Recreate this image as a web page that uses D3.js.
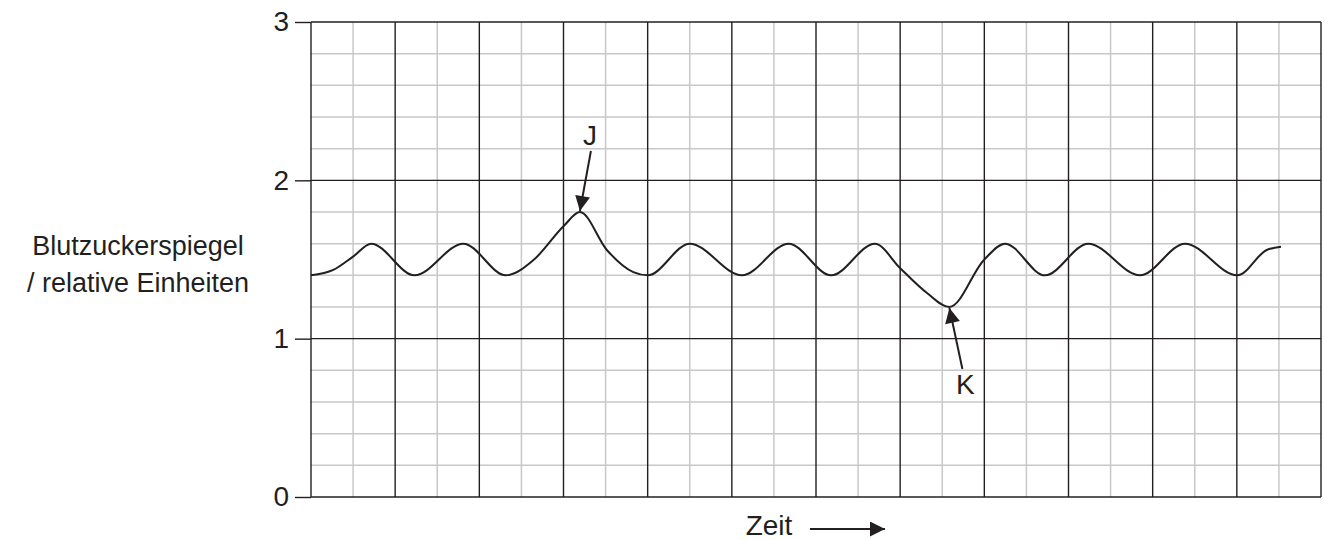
<!DOCTYPE html>
<html>
<head>
<meta charset="utf-8">
<script src="https://cdn.jsdelivr.net/npm/d3@7"></script>
<style>
  body { margin: 0; background: #fff; }
  text { font-family: "Liberation Sans", Arial, sans-serif; fill: #231f20; }
</style>
</head>
<body>
<script>
var width = 1325, height = 540

// time in small grid squares, glucose in relative units
var zeit = [0, 0.53, 1.0, 1.43, 2.46, 3.62, 4.63, 5.3, 6.0, 6.39, 7.03, 7.66, 8.0, 9.0, 10.24, 11.35, 12.36, 13.4, 14.0, 14.63, 15.17, 16.0, 16.49, 17.44, 18.47, 19.7, 20.77, 22.01, 22.71, 23.05]
var blutzucker = [1.4, 1.434, 1.518, 1.6, 1.4, 1.6, 1.4, 1.5, 1.71, 1.8, 1.56, 1.42, 1.4, 1.6, 1.4, 1.6, 1.4, 1.6, 1.445, 1.29, 1.2, 1.5, 1.6, 1.4, 1.6, 1.4, 1.6, 1.4, 1.56, 1.58]
var yTicks = [0, 1, 2, 3]
var yLabel = ["Blutzuckerspiegel", "/ relative Einheiten"]
var xLabel = "Zeit"
var marker = [{name: "J", t: 6.39, v: 1.8}, {name: "K", t: 15.17, v: 1.2}]

var svg = d3.select("body").append("svg")
    .attr("width", width)
    .attr("height", height)

var x = d3.scaleLinear().domain([0, 24]).range([311, 1321])
var y = d3.scaleLinear().domain([0, 3]).range([497, 22])

svg.append("defs").append("marker")
    .attr("id", "head")
    .attr("viewBox", "0 0 10 10")
    .attr("refX", 10).attr("refY", 5)
    .attr("markerWidth", 16).attr("markerHeight", 15)
    .attr("markerUnits", "userSpaceOnUse")
    .attr("orient", "auto")
  .append("path")
    .attr("d", "M0,0 L10,5 L0,10 Z")
    .attr("fill", "#231f20")

//minor grid
var grid = svg.append("g")
grid.selectAll(".vminor")
    .data(d3.range(1, 24).filter(function(d) { return d % 2 })).enter().append("line")
    .attr("x1", x).attr("x2", x).attr("y1", y(0)).attr("y2", y(3))
    .attr("stroke", "#c8c8c8").attr("stroke-width", 1.5)
grid.selectAll(".hminor")
    .data(d3.range(1, 15).filter(function(d) { return d % 5 })).enter().append("line")
    .attr("x1", x(0)).attr("x2", x(24))
    .attr("y1", function(d) { return y(d / 5) }).attr("y2", function(d) { return y(d / 5) })
    .attr("stroke", "#c8c8c8").attr("stroke-width", 1.5)

//major grid
grid.selectAll(".vmajor")
    .data(d3.range(0, 25, 2)).enter().append("line")
    .attr("x1", x).attr("x2", x).attr("y1", y(0)).attr("y2", y(3))
    .attr("stroke", "#231f20").attr("stroke-width", 1.4)
grid.selectAll(".hmajor")
    .data(yTicks).enter().append("line")
    .attr("x1", x(0)).attr("x2", x(24))
    .attr("y1", y).attr("y2", y)
    .attr("stroke", "#231f20").attr("stroke-width", 1.4)

var yAxis = svg.append("g")
    .attr("transform", "translate(" + x(0) + ",0)")
    .call(d3.axisLeft(y).tickValues(yTicks).tickFormat(d3.format("d")).tickSize(16).tickPadding(6))
yAxis.select(".domain").remove()
yAxis.selectAll("line").attr("stroke", "#231f20").attr("stroke-width", 1.4)
yAxis.selectAll("text")
    .attr("font-size", 28)
    .attr("font-family", "Liberation Sans, Arial, sans-serif")
    .attr("fill", "#231f20")

var line = d3.line()
    .x(function(d, i) { return x(zeit[i]) })
    .y(function(d) { return y(d) })
    .curve(d3.curveMonotoneX)

svg.append("path")
    .datum(blutzucker)
    .attr("d", line)
    .attr("fill", "none")
    .attr("stroke", "#231f20")
    .attr("stroke-width", 2)

//J and K arrows
var J = marker[0], K = marker[1]
svg.append("line")
    .attr("x1", x(J.t) + 11).attr("y1", y(J.v) - 61)
    .attr("x2", x(J.t)).attr("y2", y(J.v) - 1)
    .attr("stroke", "#231f20").attr("stroke-width", 2)
    .attr("marker-end", "url(#head)")
svg.append("text")
    .attr("x", x(J.t) + 10).attr("y", y(J.v) - 67)
    .attr("text-anchor", "middle").attr("font-size", 28)
    .text(J.name)

svg.append("line")
    .attr("x1", x(K.t) + 13).attr("y1", y(K.v) + 62)
    .attr("x2", x(K.t)).attr("y2", y(K.v) + 1)
    .attr("stroke", "#231f20").attr("stroke-width", 2)
    .attr("marker-end", "url(#head)")
svg.append("text")
    .attr("x", x(K.t) + 16).attr("y", y(K.v) + 87)
    .attr("text-anchor", "middle").attr("font-size", 28)
    .text(K.name)

//axis titles
svg.append("text")
    .attr("text-anchor", "middle").attr("font-size", 27)
    .selectAll("tspan").data(yLabel).enter().append("tspan")
    .attr("x", 138)
    .attr("y", function(d, i) { return 255 + i * 37 })
    .text(function(d) { return d })

svg.append("text")
    .attr("x", 769).attr("y", 535)
    .attr("text-anchor", "middle").attr("font-size", 28)
    .text(xLabel)
svg.append("line")
    .attr("x1", 810).attr("y1", 529).attr("x2", 885).attr("y2", 529)
    .attr("stroke", "#231f20").attr("stroke-width", 2)
    .attr("marker-end", "url(#head)")
</script>
</body>
</html>
